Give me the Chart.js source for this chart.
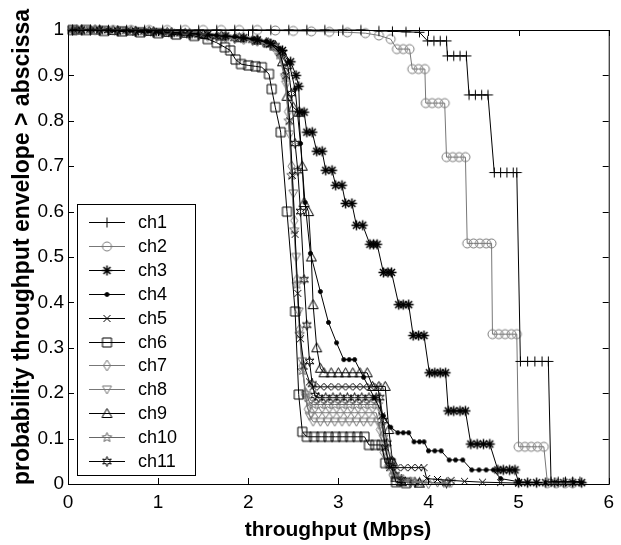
<!DOCTYPE html>
<html>
<head>
<meta charset="utf-8">
<script src="https://cdn.jsdelivr.net/npm/chart.js@4.4.1/dist/chart.umd.min.js"></script>
<style>
  html, body { margin: 0; padding: 0; background: #fff; }
</style>
</head>
<body>
<canvas id="chart" width="621" height="545"></canvas>
<script>
const fontFamily = "'Liberation Sans', Arial, sans-serif";

const names = ['ch1', 'ch2', 'ch3', 'ch4', 'ch5', 'ch6', 'ch7', 'ch8', 'ch9', 'ch10', 'ch11'];
const xTicks = [0, 1, 2, 3, 4, 5, 6];
const yTicks = [0, 0.1, 0.2, 0.3, 0.4, 0.5, 0.6, 0.7, 0.8, 0.9, 1];

// [throughput, probability] pairs
const ch1 = [
  [0.05,1],[0.25,1],[0.45,1],[0.65,1],[0.85,1],[1.05,1],[1.25,1],[1.45,1],[1.65,1],[1.85,1],[2.05,1],[2.25,1],
  [2.45,1],[2.65,1],[2.85,1],[3.05,1],[3.25,1],[3.45,0.998],[3.6,0.997],[3.75,0.996],[3.9,0.995],
  [3.99,0.976],[4.06,0.976],[4.13,0.976],[4.2,0.976],
  [4.21,0.943],[4.28,0.943],[4.35,0.943],[4.42,0.943],
  [4.45,0.857],[4.52,0.857],[4.59,0.857],[4.66,0.857],
  [4.73,0.686],[4.8,0.686],[4.87,0.686],[4.94,0.686],[4.98,0.686],
  [5.02,0.27],[5.1,0.27],[5.18,0.27],[5.26,0.27],[5.33,0.27],
  [5.36,0.005],[5.44,0.005],[5.52,0.005],[5.6,0.005],[5.68,0.005]
];
const ch2 = [
  [0.1,1],[0.3,1],[0.5,1],[0.7,1],[0.9,1],[1.1,1],[1.3,1],[1.5,1],[1.7,1],[1.9,1],[2.1,1],[2.3,0.999],
  [2.5,0.998],[2.7,0.997],[2.9,0.996],[3.1,0.995],[3.3,0.993],[3.45,0.988],[3.58,0.98],
  [3.65,0.958],[3.72,0.958],[3.79,0.958],
  [3.82,0.914],[3.89,0.914],[3.96,0.914],
  [3.97,0.839],[4.04,0.839],[4.11,0.839],[4.18,0.839],
  [4.2,0.72],[4.27,0.72],[4.34,0.72],[4.41,0.72],
  [4.43,0.53],[4.5,0.53],[4.57,0.53],[4.64,0.53],[4.7,0.53],
  [4.71,0.33],[4.78,0.33],[4.85,0.33],[4.92,0.33],[4.98,0.33],
  [5.0,0.082],[5.07,0.082],[5.14,0.082],[5.21,0.082],[5.28,0.082],
  [5.32,0.002],[5.42,0.002],[5.52,0.002],[5.6,0.002]
];
const ch3 = [
  [0.15,1],[0.35,1],[0.55,0.998],[0.75,0.997],[0.95,0.996],[1.15,0.994],[1.35,0.992],[1.55,0.99],[1.75,0.987],
  [1.95,0.983],[2.1,0.978],[2.25,0.97],[2.38,0.955],[2.47,0.93],[2.53,0.9],[2.56,0.876],
  [2.57,0.819],[2.62,0.819],[2.65,0.775],[2.71,0.775],[2.76,0.733],[2.82,0.733],[2.86,0.691],[2.93,0.691],
  [2.97,0.658],[3.04,0.658],[3.08,0.618],[3.15,0.618],[3.2,0.57],[3.27,0.57],
  [3.35,0.528],[3.39,0.528],[3.43,0.528],[3.5,0.466],[3.55,0.466],[3.59,0.466],
  [3.67,0.395],[3.72,0.395],[3.78,0.395],[3.83,0.327],[3.89,0.327],[3.95,0.327],
  [4.01,0.245],[4.07,0.245],[4.13,0.245],[4.19,0.245],[4.22,0.161],[4.28,0.161],[4.35,0.161],[4.41,0.161],
  [4.47,0.088],[4.54,0.088],[4.61,0.088],[4.68,0.088],[4.77,0.031],[4.83,0.031],[4.9,0.031],[4.96,0.031],
  [5.0,0.003],[5.1,0.003],[5.2,0.003],[5.3,0.003],[5.4,0.003],[5.5,0.003],[5.6,0.003],[5.7,0.003]
];
const ch4 = [
  [0.05,1],[0.25,1],[0.45,0.999],[0.65,0.998],[0.85,0.997],[1.05,0.995],[1.25,0.993],[1.45,0.991],[1.65,0.988],
  [1.85,0.985],[2.05,0.98],[2.2,0.975],[2.35,0.96],[2.45,0.93],[2.52,0.87],[2.58,0.75],[2.63,0.62],[2.69,0.508],
  [2.8,0.424],[2.89,0.356],[2.98,0.311],[3.06,0.274],[3.12,0.274],[3.18,0.274],[3.28,0.235],[3.4,0.19],
  [3.5,0.15],[3.58,0.125],[3.66,0.113],[3.72,0.113],[3.78,0.113],[3.84,0.093],[3.9,0.093],[3.95,0.093],
  [4.0,0.073],[4.07,0.073],[4.14,0.073],[4.23,0.053],[4.3,0.053],[4.38,0.053],
  [4.48,0.031],[4.56,0.031],[4.64,0.031],[4.72,0.031],[4.8,0.012],[5.0,0.005],[5.3,0.003],[5.6,0.003]
];
const ch5 = [
  [0.1,1],[0.3,1],[0.5,0.998],[0.7,0.997],[0.9,0.996],[1.1,0.995],[1.3,0.993],[1.5,0.99],[1.7,0.987],[1.9,0.983],
  [2.1,0.978],[2.25,0.97],[2.35,0.95],[2.42,0.9],[2.46,0.8],[2.49,0.68],[2.52,0.55],[2.55,0.42],[2.58,0.32],
  [2.62,0.26],[2.68,0.225],[2.72,0.214],[2.8,0.214],[2.88,0.214],[2.96,0.214],[3.04,0.214],[3.12,0.214],
  [3.2,0.214],[3.28,0.214],[3.36,0.214],[3.44,0.214],[3.48,0.15],[3.52,0.08],[3.57,0.036],[3.65,0.036],
  [3.73,0.036],[3.81,0.036],[3.89,0.036],[3.95,0.036],[3.98,0.012],[4.1,0.01],[4.25,0.008],[4.4,0.006],
  [4.6,0.004],[4.8,0.003],[5.0,0.002]
];
const ch6 = [
  [0.05,1],[0.2,1],[0.4,0.998],[0.6,0.997],[0.8,0.995],[1.0,0.993],[1.2,0.99],[1.4,0.987],[1.55,0.98],
  [1.65,0.972],[1.74,0.962],[1.8,0.955],[1.86,0.935],[1.92,0.925],[2.0,0.922],[2.08,0.92],[2.15,0.918],
  [2.23,0.903],[2.26,0.87],[2.3,0.83],[2.36,0.775],[2.43,0.6],[2.52,0.38],[2.56,0.197],[2.6,0.115],
  [2.65,0.104],[2.73,0.104],[2.81,0.104],[2.89,0.104],[2.97,0.104],[3.05,0.104],[3.13,0.104],[3.21,0.104],
  [3.29,0.104],[3.34,0.086],[3.41,0.086],[3.48,0.086],[3.52,0.046],[3.58,0.046],[3.64,0.004],[3.75,0.002]
];
const ch7 = [
  [0.15,1],[0.35,0.999],[0.55,0.998],[0.75,0.997],[0.95,0.995],[1.15,0.993],[1.35,0.99],[1.55,0.987],
  [1.75,0.984],[1.95,0.98],[2.1,0.976],[2.25,0.968],[2.33,0.95],[2.4,0.9],[2.44,0.82],[2.48,0.7],[2.51,0.58],
  [2.54,0.45],[2.57,0.34],[2.6,0.26],[2.63,0.2],[2.66,0.165],[2.7,0.157],[2.78,0.157],[2.86,0.157],
  [2.94,0.157],[3.02,0.157],[3.1,0.157],[3.18,0.157],[3.26,0.157],[3.34,0.157],[3.42,0.157],[3.46,0.12],
  [3.5,0.07],[3.55,0.04],[3.6,0.02],[3.66,0.008],[3.8,0.004],[4.0,0.002]
];
const ch8 = [
  [0.05,1],[0.25,0.999],[0.45,0.998],[0.65,0.997],[0.85,0.995],[1.05,0.993],[1.25,0.99],[1.45,0.987],
  [1.65,0.984],[1.85,0.98],[2.05,0.976],[2.18,0.97],[2.28,0.962],[2.36,0.94],[2.42,0.88],[2.46,0.77],
  [2.5,0.64],[2.53,0.5],[2.56,0.38],[2.6,0.27],[2.64,0.19],[2.68,0.15],[2.72,0.137],[2.8,0.137],
  [2.88,0.137],[2.96,0.137],[3.04,0.137],[3.12,0.137],[3.2,0.137],[3.28,0.137],[3.36,0.137],[3.44,0.137],
  [3.5,0.1],[3.54,0.06],[3.6,0.03],[3.68,0.012],[3.8,0.006],[4.1,0.003],[4.25,0.002]
];
const ch9 = [
  [0.1,1],[0.3,1],[0.5,0.999],[0.7,0.998],[0.9,0.997],[1.1,0.995],[1.3,0.993],[1.5,0.99],[1.7,0.987],
  [1.9,0.983],[2.1,0.978],[2.22,0.972],[2.3,0.965],[2.38,0.93],[2.43,0.854],[2.5,0.83],[2.56,0.819],
  [2.6,0.7],[2.62,0.62],[2.67,0.6],[2.7,0.5],[2.72,0.395],[2.76,0.3],[2.8,0.255],[2.84,0.245],[2.92,0.245],
  [3.0,0.245],[3.08,0.245],[3.16,0.245],[3.24,0.245],[3.32,0.245],[3.38,0.215],[3.45,0.215],[3.52,0.215],
  [3.56,0.12],[3.6,0.05],[3.64,0.015],[3.7,0.005],[3.9,0.002]
];
const ch10 = [
  [0.15,1],[0.35,1],[0.55,0.998],[0.75,0.997],[0.95,0.996],[1.15,0.994],[1.35,0.991],[1.55,0.988],
  [1.75,0.985],[1.95,0.981],[2.1,0.977],[2.2,0.972],[2.27,0.965],[2.35,0.945],[2.41,0.9],[2.45,0.8],
  [2.48,0.68],[2.51,0.56],[2.54,0.44],[2.57,0.33],[2.6,0.25],[2.64,0.2],[2.68,0.18],[2.72,0.175],
  [2.8,0.175],[2.88,0.175],[2.96,0.175],[3.04,0.175],[3.12,0.175],[3.2,0.175],[3.28,0.175],[3.36,0.175],
  [3.44,0.175],[3.48,0.13],[3.52,0.08],[3.57,0.045],[3.62,0.02],[3.7,0.008],[3.9,0.004],[4.2,0.002]
];
const ch11 = [
  [0.05,1],[0.25,1],[0.45,0.999],[0.65,0.998],[0.85,0.996],[1.05,0.994],[1.25,0.992],[1.45,0.989],
  [1.65,0.986],[1.85,0.982],[2.05,0.978],[2.2,0.972],[2.3,0.965],[2.38,0.95],[2.44,0.92],[2.48,0.86],
  [2.52,0.75],[2.55,0.69],[2.58,0.6],[2.62,0.45],[2.65,0.35],[2.68,0.27],[2.71,0.22],[2.74,0.195],
  [2.78,0.19],[2.86,0.19],[2.94,0.19],[3.02,0.19],[3.1,0.19],[3.18,0.19],[3.26,0.19],[3.34,0.19],
  [3.42,0.19],[3.46,0.19],[3.5,0.14],[3.54,0.09],[3.58,0.05],[3.63,0.02],[3.7,0.01],[3.85,0.004],[4.2,0.002]
];

const seriesData = [ch1, ch2, ch3, ch4, ch5, ch6, ch7, ch8, ch9, ch10, ch11];
const shapes = ['plus', 'circle', 'asterisk', 'dot', 'x', 'square', 'diamond', 'down', 'up', 'penta', 'hexa'];
const colors = ['#000', '#777', '#000', '#000', '#000', '#000', '#777', '#777', '#000', '#666', '#000'];

// little canvas markers, matlab style
function makeMarker(shape, color) {
  const c = document.createElement('canvas');
  c.width = 13; c.height = 13;
  const g = c.getContext('2d');
  g.strokeStyle = color;
  g.fillStyle = color;
  g.lineWidth = 1;
  g.translate(6.5, 6.5);
  g.beginPath();
  if (shape === 'plus') {
    g.moveTo(-5, 0); g.lineTo(5, 0); g.moveTo(0, -5); g.lineTo(0, 5);
  } else if (shape === 'circle') {
    g.arc(0, 0, 4.5, 0, Math.PI * 2);
  } else if (shape === 'asterisk') {
    g.moveTo(-5, 0); g.lineTo(5, 0); g.moveTo(0, -5); g.lineTo(0, 5);
    g.moveTo(-3.5, -3.5); g.lineTo(3.5, 3.5); g.moveTo(-3.5, 3.5); g.lineTo(3.5, -3.5);
    g.lineWidth = 1.5;
  } else if (shape === 'dot') {
    g.arc(0, 0, 2, 0, Math.PI * 2);
    g.fill();
  } else if (shape === 'x') {
    g.moveTo(-3.5, -3.5); g.lineTo(3.5, 3.5); g.moveTo(-3.5, 3.5); g.lineTo(3.5, -3.5);
  } else if (shape === 'square') {
    g.rect(-4.5, -4.5, 9, 9);
  } else if (shape === 'diamond') {
    g.moveTo(0, -5.5); g.lineTo(3.5, 0); g.lineTo(0, 5.5); g.lineTo(-3.5, 0); g.closePath();
  } else if (shape === 'down') {
    g.moveTo(-4.5, -3.5); g.lineTo(4.5, -3.5); g.lineTo(0, 4.5); g.closePath();
  } else if (shape === 'up') {
    g.moveTo(-5, 4); g.lineTo(5, 4); g.lineTo(0, -5); g.closePath();
  } else if (shape === 'penta' || shape === 'hexa') {
    const n = shape === 'penta' ? 5 : 6;
    for (let i = 0; i < n * 2; i++) {
      const r = i % 2 === 0 ? 5 : 2.2;
      const a = -Math.PI / 2 + i * Math.PI / n;
      if (i === 0) g.moveTo(r * Math.cos(a), r * Math.sin(a));
      else g.lineTo(r * Math.cos(a), r * Math.sin(a));
    }
    g.closePath();
  }
  g.stroke();
  return c;
}

const markers = shapes.map((s, i) => makeMarker(s, colors[i]));

const datasets = names.map((name, i) => ({
  label: name,
  data: seriesData[i].map(p => ({ x: p[0], y: p[1] })),
  showLine: true,
  borderColor: colors[i],
  borderWidth: 1,
  pointStyle: markers[i],
  pointRadius: 5,
  tension: 0,
  clip: 10
}));

// box, inward ticks, legend and axis titles
const matlabFrame = {
  id: 'matlabFrame',
  afterDraw(chart) {
    const ctx = chart.ctx;
    const a = chart.chartArea;
    const xs = chart.scales.x;
    const ys = chart.scales.y;
    ctx.save();
    ctx.strokeStyle = '#000';
    ctx.lineWidth = 1;
    ctx.strokeRect(a.left + 0.5, a.top + 0.5, a.right - a.left, a.bottom - a.top);
    ctx.beginPath();
    xTicks.forEach(v => {
      const px = Math.round(xs.getPixelForValue(v)) + 0.5;
      ctx.moveTo(px, a.bottom); ctx.lineTo(px, a.bottom - 6);
      ctx.moveTo(px, a.top); ctx.lineTo(px, a.top + 6);
    });
    yTicks.forEach(v => {
      const py = Math.round(ys.getPixelForValue(v)) + 0.5;
      ctx.moveTo(a.left, py); ctx.lineTo(a.left + 6, py);
      ctx.moveTo(a.right, py); ctx.lineTo(a.right - 6, py);
    });
    ctx.stroke();

    // legend
    const lx = 77, ly = 204, lw = 118, lh = 271;
    ctx.fillStyle = '#fff';
    ctx.fillRect(lx, ly, lw, lh);
    ctx.strokeRect(lx + 0.5, ly + 0.5, lw, lh);
    ctx.font = '18px ' + fontFamily;
    ctx.textBaseline = 'middle';
    names.forEach((name, i) => {
      const y = Math.round(222 + i * 23.9) + 0.5;
      ctx.strokeStyle = colors[i];
      ctx.beginPath();
      ctx.moveTo(89, y); ctx.lineTo(125, y);
      ctx.stroke();
      ctx.drawImage(markers[i], 107 - 6.5, y - 6.5);
      ctx.fillStyle = '#000';
      ctx.fillText(name, 138, y + 1);
    });

    // axis titles
    ctx.fillStyle = '#000';
    ctx.textAlign = 'center';
    ctx.textBaseline = 'middle';
    ctx.font = 'bold 21px ' + fontFamily;
    ctx.fillText('throughput (Mbps)', 338, 530);
    ctx.translate(23, 247);
    ctx.rotate(-Math.PI / 2);
    ctx.font = 'bold 23px ' + fontFamily;
    ctx.fillText('probability throughput envelope > abscissa', 0, 0);
    ctx.restore();
  }
};

new Chart(document.getElementById('chart'), {
  type: 'scatter',
  data: { datasets: datasets },
  options: {
    responsive: false,
    animation: false,
    layout: { padding: { top: 30, right: 7, left: 0, bottom: 0 } },
    plugins: {
      legend: { display: false },
      tooltip: { enabled: false }
    },
    scales: {
      x: {
        type: 'linear',
        min: 0,
        max: 6,
        afterFit: s => { s.height = 61; },
        afterBuildTicks: s => { s.ticks = xTicks.map(v => ({ value: v })); },
        grid: { display: false, drawTicks: false },
        border: { display: false },
        ticks: {
          padding: 7,
          color: '#000',
          font: { family: fontFamily, size: 19 },
          callback: v => String(v)
        }
      },
      y: {
        type: 'linear',
        min: 0,
        max: 1,
        afterFit: s => { s.width = 68; },
        afterBuildTicks: s => { s.ticks = yTicks.map(v => ({ value: v })); },
        grid: { display: false, drawTicks: false },
        border: { display: false },
        ticks: {
          padding: 4,
          color: '#000',
          font: { family: fontFamily, size: 19 },
          callback: v => String(+v.toFixed(1))
        }
      }
    }
  },
  plugins: [matlabFrame]
});
</script>
</body>
</html>
